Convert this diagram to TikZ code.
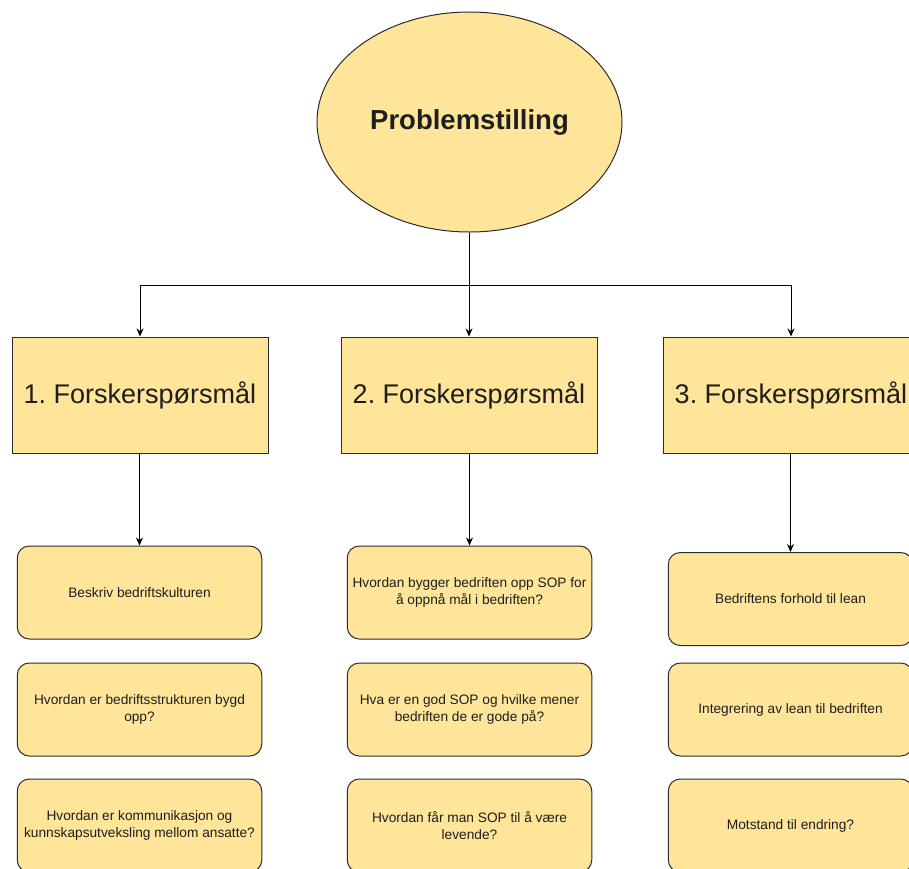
\documentclass[tikz,border=0pt]{standalone}
\usepackage{fontspec}
\setmainfont{Liberation Sans}
\usetikzlibrary{shapes.geometric,arrows.meta}
\frenchspacing
\definecolor{boxfill}{HTML}{FFE599}
\definecolor{boxline}{HTML}{2B2B2B}
\definecolor{txt}{HTML}{1E1E1E}
\tikzset{
  base/.style={draw=boxline, fill=boxfill, line width=1pt, inner sep=0pt, text=txt, align=center},
  topic/.style={base, ellipse, minimum width=305pt, minimum height=220pt,
    font=\fontsize{27.5}{33}\selectfont\bfseries},
  question/.style={base, rectangle, minimum width=256pt, minimum height=116pt,
    font=\fontsize{27}{32}\selectfont},
  detail/.style={base, rectangle, rounded corners=12pt, minimum width=244.5pt, minimum height=93pt,
    font=\fontsize{13.7}{17}\selectfont},
  link/.style={draw=black, line width=1pt, -{Stealth[length=8pt,width=7pt]}}
}
\begin{document}
\begin{tikzpicture}[x=1pt,y=-1pt]
\useasboundingbox (0,0) rectangle (909,868);
\clip (0,0) rectangle (909,868);

% top problem statement
\node[topic] (prob) at (469.5,122) {\raisebox{-2pt}{Problemstilling}};

% research questions
\node[question] (q1) at (140,395) {1. Forskerspørsmål};
\node[question] (q2) at (469,395) {2. Forskerspørsmål};
\node[question] (q3) at (791,395) {3. Forskerspørsmål};

% branching connectors
\coordinate (hub) at (469,285);
\draw[link] (prob.south -| hub) -- (q2.north);
\draw[link] (hub) -| (q1.north);
\draw[link] (hub) -| (q3.north);

% sub-questions, column 1
\node[detail] (a1) at (139.5,592.5) {Beskriv bedriftskulturen};
\node[detail] (a2) at (139.5,709.5) {Hvordan er bedriftsstrukturen bygd\\opp?};
\node[detail] (a3) at (139.5,825.5) {Hvordan er kommunikasjon og\\kunnskapsutveksling mellom ansatte?};

% sub-questions, column 2
\node[detail] (b1) at (469.5,592.5) {Hvordan bygger bedriften opp SOP for\\å oppnå mål i bedriften?};
\node[detail] (b2) at (469.5,709.5) {Hva er en god SOP og hvilke mener\\bedriften de er gode på?};
\node[detail] (b3) at (469.5,825.5) {Hvordan får man SOP til å være\\levende?};

% sub-questions, column 3
\node[detail] (c1) at (790.5,599) {Bedriftens forhold til lean};
\node[detail] (c2) at (790.5,709.5) {Integrering av lean til bedriften};
\node[detail] (c3) at (790.5,825.5) {Motstand til endring?};

% downward connectors
\draw[link] (q1.south -| a1.north) -- (a1.north);
\draw[link] (q2.south -| b1.north) -- (b1.north);
\draw[link] (q3.south -| c1.north) -- (c1.north);
\end{tikzpicture}
\end{document}
